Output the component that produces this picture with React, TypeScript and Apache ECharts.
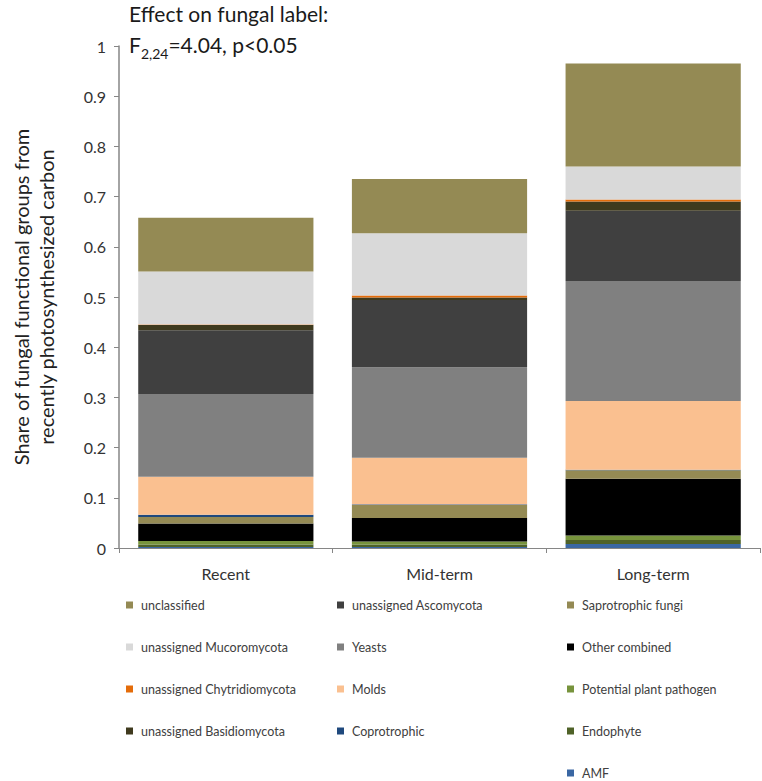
import React, { useEffect, useRef } from "react";
import * as echarts from "echarts";

const categories = ["Recent", "Mid-term", "Long-term"];

// stack order: bottom -> top
const seriesNames = [
  "AMF",
  "Endophyte",
  "Potential plant pathogen",
  "Other combined",
  "Saprotrophic fungi",
  "Coprotrophic",
  "Molds",
  "Yeasts",
  "unassigned Ascomycota",
  "unassigned Basidiomycota",
  "unassigned Chytridiomycota",
  "unassigned Mucoromycota",
  "unclassified",
];

const amf = [0.002, 0.002, 0.008];
const endophyte = [0.005, 0.005, 0.008];
const plantPathogen = [0.007, 0.006, 0.009];
const otherCombined = [0.035, 0.047, 0.113];
const saprotrophic = [0.013, 0.026, 0.017];
const coprotrophic = [0.004, 0.001, 0.001];
const molds = [0.076, 0.093, 0.137];
const yeasts = [0.165, 0.18, 0.239];
const ascomycota = [0.127, 0.134, 0.14];
const basidiomycota = [0.01, 0.005, 0.018];
const chytridiomycota = [0.001, 0.004, 0.004];
const mucoromycota = [0.106, 0.124, 0.066];
const unclassified = [0.107, 0.108, 0.205];

const seriesValues = [
  amf,
  endophyte,
  plantPathogen,
  otherCombined,
  saprotrophic,
  coprotrophic,
  molds,
  yeasts,
  ascomycota,
  basidiomycota,
  chytridiomycota,
  mucoromycota,
  unclassified,
];

const seriesColors = [
  "#3A67A3",
  "#4F6228",
  "#77933C",
  "#000000",
  "#948A54",
  "#1F497D",
  "#FAC090",
  "#808080",
  "#404040",
  "#3F3A1E",
  "#E46C0A",
  "#D9D9D9",
  "#948A54",
];

const yTicks = [0, 0.1, 0.2, 0.3, 0.4, 0.5, 0.6, 0.7, 0.8, 0.9, 1];

const legendCol1 = [
  "unclassified",
  "unassigned Mucoromycota",
  "unassigned Chytridiomycota",
  "unassigned Basidiomycota",
];
const legendCol2 = ["unassigned Ascomycota", "Yeasts", "Molds", "Coprotrophic"];
const legendCol3 = [
  "Saprotrophic fungi",
  "Other combined",
  "Potential plant pathogen",
  "Endophyte",
  "AMF",
];

const FONT = "Lato, 'Open Sans', sans-serif";

export default function App() {
  const ref = useRef<HTMLDivElement>(null);

  useEffect(() => {
    document.body.style.margin = "0";
    if (!ref.current) return;
    const chart = echarts.init(ref.current, undefined, { renderer: "svg" });

    const legendBase = {
      orient: "vertical" as const,
      itemWidth: 7,
      itemHeight: 7,
      itemGap: 28,
      height: 240,
      padding: 0,
      icon: "rect",
      textStyle: {
        fontFamily: FONT,
        fontSize: 12.5,
        color: "#404040",
        lineHeight: 14,
        padding: [0, 0, 0, 3],
      },
      selectedMode: false,
    };

    chart.setOption({
      animation: false,
      textStyle: { fontFamily: FONT },
      title: {
        left: 124,
        top: -7,
        text: "Effect on fungal label:\nF{sub|2,24}=4.04, p<0.05",
        textStyle: {
          fontFamily: FONT,
          fontSize: 21,
          fontWeight: "normal",
          color: "#1a1a1a",
          lineHeight: 31,
          rich: {
            sub: {
              fontFamily: FONT,
              fontSize: 14,
              color: "#1a1a1a",
              verticalAlign: "bottom",
              padding: [10, 0, 0, 0],
            },
          },
        },
      },
      grid: { left: 112, right: 2, top: 46, bottom: 233, containLabel: false },
      xAxis: {
        type: "category",
        data: categories,
        axisLine: { lineStyle: { color: "#868686", width: 1 } },
        axisTick: { show: true, length: 5, lineStyle: { color: "#868686" } },
        axisLabel: { fontFamily: FONT, fontSize: 16, color: "#333", margin: 17 },
      },
      yAxis: {
        type: "value",
        min: 0,
        max: 1,
        interval: 0.1,
        name: "Share of fungal functional groups from\nrecently photosynthesized carbon",
        nameLocation: "middle",
        nameGap: 61,
        nameTextStyle: { fontFamily: FONT, fontSize: 20, color: "#222", lineHeight: 25 },
        axisLine: { show: true, lineStyle: { color: "#868686", width: 1.5 } },
        axisTick: { show: true, length: 5, lineStyle: { color: "#868686" } },
        splitLine: { show: false },
        axisLabel: {
          fontFamily: FONT,
          fontSize: 16,
          color: "#333",
          margin: 13,
          formatter: (v: number) => {
            const t = yTicks.find((x) => Math.abs(x - v) < 1e-9);
            return t === undefined ? "" : String(t);
          },
        },
      },
      legend: [
        { ...legendBase, left: 126, top: 598, data: legendCol1 },
        { ...legendBase, left: 337, top: 598, data: legendCol2 },
        { ...legendBase, left: 567, top: 598, data: legendCol3 },
      ],
      series: seriesNames.map((name, i) => ({
        name,
        type: "bar",
        stack: "total",
        barCategoryGap: "18%",
        data: seriesValues[i],
        itemStyle: { color: seriesColors[i] },
      })),
    });

    return () => chart.dispose();
  }, []);

  return <div ref={ref} style={{ width: 762, height: 781 }} />;
}
